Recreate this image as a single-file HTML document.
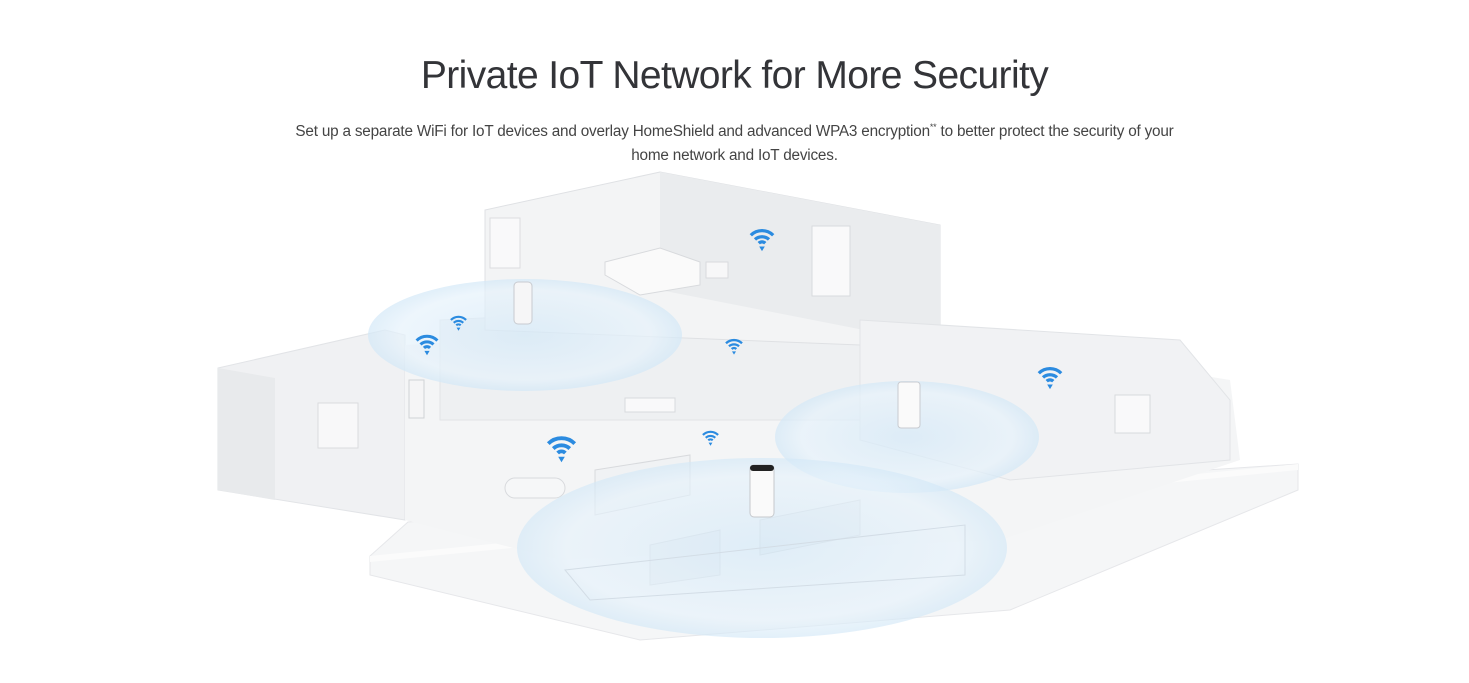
<!DOCTYPE html>
<html><head><meta charset="utf-8"><style>
html,body{margin:0;padding:0;background:#fff;width:1469px;height:683px;overflow:hidden;font-family:"Liberation Sans",sans-serif}
h1{position:absolute;top:54px;left:0;width:1469px;text-align:center;margin:0;font-weight:400;font-size:39px;color:#333438;letter-spacing:-0.6px}
p{position:absolute;top:120px;left:0;width:1469px;text-align:center;margin:0;font-size:15.3px;line-height:24px;color:#444;letter-spacing:-0.2px;white-space:nowrap}
sup{font-size:9px;vertical-align:6px;line-height:0}
svg{position:absolute;left:0;top:0}
</style></head><body>
<h1>Private IoT Network for More Security</h1>
<p>Set up a separate WiFi for IoT devices and overlay HomeShield and advanced WPA3 encryption<sup>**</sup> to better protect the security of your<br>home network and IoT devices.</p>
<svg width="1469" height="683" viewBox="0 0 1469 683">
<defs>
<radialGradient id="b" cx="50%" cy="50%" r="50%"><stop offset="0" stop-color="#d4e9f8"/><stop offset="0.8" stop-color="#e6f2fb"/><stop offset="1" stop-color="#d3e8f7"/></radialGradient>
<symbol id="w" viewBox="0 0 30 30"><path d="M3 11a17 17 0 0 1 24 0" stroke="#2b8be0" stroke-width="3.5" fill="none"/><path d="M7.5 15.5a11 11 0 0 1 15 0" stroke="#2b8be0" stroke-width="3.5" fill="none"/><path d="M11.5 19.5a5 5 0 0 1 7 0" stroke="#2b8be0" stroke-width="3.5" fill="none"/><path d="M12 23l3 5 3-5z" fill="#2b8be0"/></symbol>
</defs>
<polygon points="370,556 408,522 1298,464 1298,490 1010,610 640,640 370,575" fill="#f5f6f7" stroke="#e6e7ea"/>
<polygon points="370,556 1298,464 1298,470 370,562" fill="#fbfbfb"/>
<polygon points="218,368 385,330 405,335 405,520 218,490" fill="#f0f1f3" stroke="#e2e4e7"/>
<polygon points="218,368 218,490 275,500 275,378" fill="#e8eaec"/>
<rect x="318" y="403" width="40" height="45" fill="#f8f8f9" stroke="#dadbde"/>
<polygon points="405,345 860,320 1230,380 1240,460 1000,540 560,560 405,520" fill="#f4f5f6"/>
<polygon points="440,320 860,300 860,420 440,420" fill="#eef0f2" stroke="#e2e4e7"/>
<polygon points="485,265 485,210 660,172 940,225 940,335 860,345 485,330" fill="#f3f4f5" stroke="#dfe1e4"/>
<polygon points="660,172 660,290 940,345 940,225" fill="#eaecee"/>
<rect x="490" y="218" width="30" height="50" fill="#f9f9fa" stroke="#dcdde0"/>
<polygon points="605,262 660,248 700,262 700,285 640,295 605,275" fill="#fafafa" stroke="#d8dadd"/>
<rect x="812" y="226" width="38" height="70" fill="#f9f9fa" stroke="#d8dadd"/>
<rect x="706" y="262" width="22" height="16" fill="#f7f7f8" stroke="#d8dadd"/>
<polygon points="860,320 1180,340 1230,400 1230,460 1010,480 860,440" fill="#f1f2f4" stroke="#e2e4e7"/>
<rect x="1115" y="395" width="35" height="38" fill="#f9f9fa" stroke="#d8dadd"/>
<rect x="625" y="398" width="50" height="14" fill="#f9f9fa" stroke="#d8dadd"/>
<rect x="505" y="478" width="60" height="20" rx="10" fill="#f6f7f8" stroke="#d8dadd"/>
<polygon points="595,470 690,455 690,495 595,515" fill="#f0f2f4" stroke="#d8dadd"/>
<polygon points="650,545 720,530 720,575 650,585" fill="#eaedf0" stroke="#d8dadd"/>
<polygon points="760,520 860,500 860,535 760,555" fill="#eaedf0" stroke="#d8dadd"/>
<ellipse cx="525" cy="335" rx="157" ry="56" fill="url(#b)" opacity="0.7"/>
<ellipse cx="907" cy="437" rx="132" ry="56" fill="url(#b)" opacity="0.7"/>
<ellipse cx="762" cy="548" rx="245" ry="90" fill="url(#b)" opacity="0.65"/>
<polygon points="565,570 965,525 965,575 590,600" fill="none" stroke="#d3dde6"/>
<rect x="514" y="282" width="18" height="42" rx="4" fill="#f6f6f7" stroke="#c8cbd0"/>
<rect x="750" y="465" width="24" height="52" rx="4" fill="#fafafa" stroke="#c5c8cc"/>
<rect x="750" y="465" width="24" height="6" rx="3" fill="#222"/>
<rect x="898" y="382" width="22" height="46" rx="3" fill="#fafafa" stroke="#c8cbd0"/>
<rect x="409" y="380" width="15" height="38" fill="#f5f5f6" stroke="#d0d2d5"/>
<use href="#w" x="414" y="330" width="26" height="28"/>
<use href="#w" x="449" y="313" width="19" height="19"/>
<use href="#w" x="748" y="224" width="28" height="30"/>
<use href="#w" x="724" y="336" width="20" height="20"/>
<use href="#w" x="1036" y="362" width="28" height="30"/>
<use href="#w" x="545" y="431" width="33" height="34"/>
<use href="#w" x="701" y="428" width="19" height="19"/>
</svg>
</body></html>
